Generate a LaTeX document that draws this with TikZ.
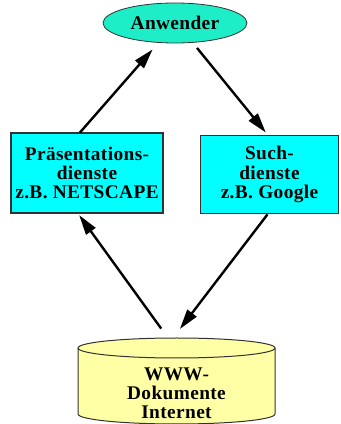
\documentclass[tikz,border=0pt]{standalone}
\usepackage{fontspec}
\setmainfont{Liberation Serif}
\usepackage{xcolor}
\definecolor{usergreen}{RGB}{30, 238, 200}
\definecolor{boxcyan}{RGB}{0, 255, 255}
\definecolor{dbyellow}{RGB}{255, 255, 165}
\definecolor{edgegray}{RGB}{50, 50, 50}
\usetikzlibrary{calc}
\usetikzlibrary{shapes.geometric}
\usetikzlibrary{arrows.meta}

\begin{document}
\begin{tikzpicture}[x=0.75pt, y=0.75pt,
    txt/.style={font=\bfseries\fontsize{14.5}{14.4}\selectfont\addfontfeature{LetterSpace=2}, align=center},
    dienst/.style={txt, draw=edgegray, line width=0.8pt, fill=boxcyan, inner sep=0pt},
    pfeil/.style={line width=1.8pt, -{Triangle[length=15pt, width=8.5pt]}}]
      \useasboundingbox (0,0) rectangle (340,424);

      \node[txt, ellipse, draw=edgegray, line width=0.6pt, fill=usergreen,
            minimum width=108pt, minimum height=30pt, inner sep=0pt] (anwender) at (175,401) {Anwender};
      \node[dienst, minimum width=114pt, minimum height=60pt] (praes) at (87,251)
            {Präsentations-\\dienste\\z.B. NETSCAPE};
      \node[dienst, minimum width=104pt, minimum height=59pt] (such) at (269.5,249.5)
            {Such-\\dienste\\z.B. Google};

      % database cylinder, its bottom runs off the page
      \filldraw[draw=edgegray, line width=0.75pt, fill=dbyellow]
            (78,76) -- (78,10) arc[start angle=180, end angle=360, x radius=98.5, y radius=10]
            -- (275,76) arc[start angle=0, end angle=180, x radius=98.5, y radius=10] -- cycle;
      \draw[edgegray, line width=0.75pt] (78,76) arc[start angle=180, end angle=360, x radius=98.5, y radius=10];
      \node[txt] (dok) at (176.5,31) {WWW-\\Dokumente\\Internet};
      \coordinate (dokin) at (173,86);
      \coordinate (dokout) at (168,86);

      \draw[pfeil, shorten >=6.5pt] ($(praes.north)+(-7,0)$) -- (anwender.230);
      \draw[pfeil, shorten <=5pt, shorten >=2pt] (anwender.312) -- ($(such.north)+(-2,0)$);
      \draw[pfeil, shorten >=8.5pt] ($(such.south)+(-2,0)$) -- (dokin);
      \draw[pfeil, shorten <=8.7pt, shorten >=1.5pt] (dokout) -- ($(praes.south)+(-9,0)$);
\end{tikzpicture}
\end{document}
